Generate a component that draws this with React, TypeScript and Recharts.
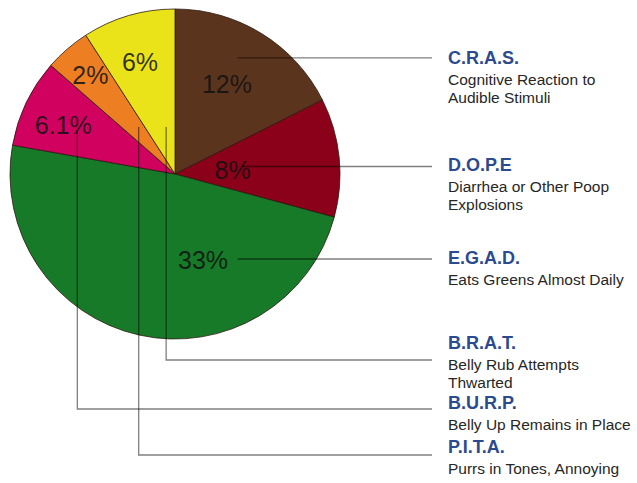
import React from 'react';
import { PieChart, Pie, Cell } from 'recharts';

// slices, clockwise from 12 o'clock
const ABBR = ['C.R.A.S.', 'D.O.P.E', 'E.G.A.D.', 'B.U.R.P.', 'P.I.T.A.', 'B.R.A.T.'];
const MEANING = [
  ['Cognitive Reaction to', 'Audible Stimuli'],
  ['Diarrhea or Other Poop', 'Explosions'],
  ['Eats Greens Almost Daily'],
  ['Belly Up Remains in Place'],
  ['Purrs in Tones, Annoying'],
  ['Belly Rub Attempts', 'Thwarted'],
];
// printed percentages
const PCT_TEXT = ['12%', '8%', '33%', '6.1%', '2%', '6%'];
// slice sizes as actually drawn (orange is drawn wider than its 2%)
const SLICE = [11.8, 7.8, 32.6, 5.8, 3.0, 6.1];
const COLORS = ['#5b341e', '#8a0119', '#167a28', '#d0015f', '#ed7f22', '#ebe31a'];

const data = SLICE.map((v, i) => ({ name: ABBR[i], value: v }));

// label layout: [angle shift from slice middle (deg, clockwise), radius fraction]
const PCT_SPOT = [[-1.65, 0.63], [1.4, 0.35], [-30.6, 0.55], [-1.8, 0.74], [0.3, 0.79], [-1.0, 0.71]];
const LEAD_SPOT = [[-3.25, 0.8], [-0.6, 0.41], [-49, 0.64], [-1.2, 0.65], [3.1, 0.36], [5.7, 0.29]];
// y of the legend title, and y of the elbow for leaders that drop down (null = straight across)
const ROW_Y = [58, 165, 258, 403, 447, 343];
const ELBOW_Y = [null, null, null, 409, 455, 360];
const LEGEND_X = 448;
const LINE_END = 432;

const polar = (cx: number, cy: number, deg: number, r: number) => {
  const a = (deg * Math.PI) / 180;
  return [cx + r * Math.sin(a), cy - r * Math.cos(a)];
};

const renderLabel = (props: any) => {
  const { cx, cy, midAngle, outerRadius, index } = props;
  const mid = 90 - midAngle;
  const [tx, ty] = polar(cx, cy, mid + PCT_SPOT[index][0], outerRadius * PCT_SPOT[index][1]);
  const [lx, ly] = polar(cx, cy, mid + LEAD_SPOT[index][0], outerRadius * LEAD_SPOT[index][1]);
  const elbow = ELBOW_Y[index];
  const path = elbow == null
    ? `M${lx},${ly}H${LINE_END}`
    : `M${lx},${ly}V${elbow}H${LINE_END}`;
  const rowY = ROW_Y[index];
  return (
    <g key={`lbl-${index}`}>
      <text x={tx} y={ty} textAnchor="middle" dominantBaseline="central"
        fontSize={25} fill="#111" fillOpacity={0.85} fontFamily="'Liberation Sans', Arial, sans-serif">
        {PCT_TEXT[index]}
      </text>
      <path d={path} fill="none" stroke="#000" strokeOpacity={0.5} strokeWidth={1.3} />
      <text x={LEGEND_X} y={rowY} dominantBaseline="central" fontSize={18} fontWeight="bold"
        fill="#2b4a90" fontFamily="'Liberation Sans', Arial, sans-serif">
        {ABBR[index]}
      </text>
      {MEANING[index].map((line, j) => (
        <text key={j} x={LEGEND_X} y={rowY + 21 + j * 18} dominantBaseline="central" fontSize={15.5}
          fill="#262626" fontFamily="'Liberation Sans', Arial, sans-serif">
          {line}
        </text>
      ))}
    </g>
  );
};

export default function App() {
  return (
    <div style={{ position: 'absolute', left: 0, top: 0, background: '#fff' }}>
      <PieChart width={637} height={483} margin={{ top: 0, right: 0, bottom: 0, left: 0 }}>
        <Pie
          data={data}
          dataKey="value"
          cx={175}
          cy={174}
          outerRadius={165}
          startAngle={90}
          endAngle={-270}
          stroke="#2a1a10"
          strokeWidth={0.8}
          label={renderLabel}
          labelLine={false}
          isAnimationActive={false}
        >
          {data.map((d, i) => (
            <Cell key={d.name} fill={COLORS[i]} />
          ))}
        </Pie>
      </PieChart>
    </div>
  );
}
